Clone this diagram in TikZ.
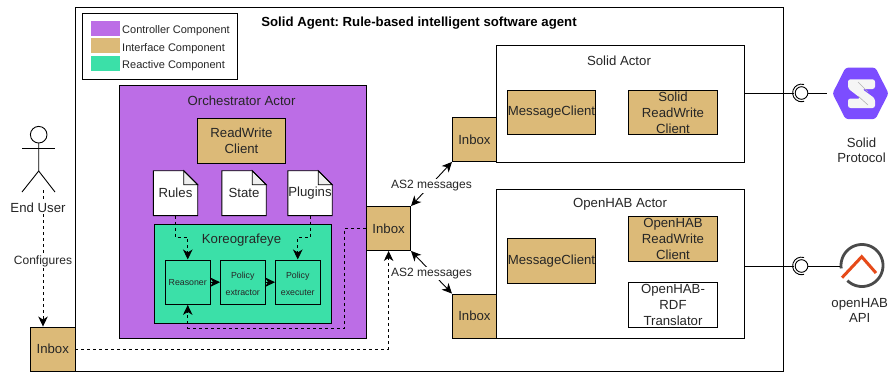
\documentclass[tikz,border=0pt]{standalone}
\usepackage{fontspec}
\setmainfont{Liberation Sans}
\usetikzlibrary{arrows.meta,calc}
\definecolor{ctrl}{HTML}{BC6DE6}
\definecolor{iface}{HTML}{DCBA78}
\definecolor{react}{HTML}{3BE0A8}
\definecolor{solidp}{HTML}{7C4DFF}
\definecolor{ohgray}{HTML}{4A4A4A}
\definecolor{ohor}{HTML}{E64A19}
\definecolor{foldc}{HTML}{EEEEEE}
\tikzset{
  x=1pt,y=-1pt,
  headtip/.tip={Stealth[length=10pt,width=9.5pt,inset=3pt]},
  boxn/.style={draw=black,line width=0.9pt,inner sep=0pt,align=center,font=\fontsize{13.2}{16}\selectfont,text=black!85},
  iface box/.style={boxn,fill=iface},
  white box/.style={boxn,fill=white},
  small box/.style={boxn,fill=react,font=\fontsize{8.8}{17}\selectfont,minimum width=44.5pt,minimum height=44.5pt},
  swatch/.style={fill=#1,draw=none,minimum width=29pt,minimum height=15pt,inner sep=0pt},
  legtxt/.style={font=\fontsize{11}{13}\selectfont,anchor=west,inner sep=0pt,text=black!85},
  lbl/.style={font=\fontsize{13.2}{15.5}\selectfont,align=center,inner sep=0pt,text=black!85},
  msg/.style={font=\fontsize{12}{14}\selectfont,fill=white,inner sep=1.5pt,text=black!85},
  dashedarrow/.style={line width=0.9pt,dash pattern=on 3pt off 3pt,-headtip},
  solidarrow/.style={line width=0.9pt,-headtip},
  twoway/.style={line width=0.9pt,headtip-headtip},
  plain/.style={line width=0.9pt},
}
\newcommand{\docshape}[1]{%
  \fill[white] (#1.north west) -- ($(#1.north east)+(-14,0)$) -- ($(#1.north east)+(0,14)$) -- (#1.south east) -- (#1.south west) -- cycle;
  \draw[plain,fill=foldc] ($(#1.north east)+(-14,0)$) -- ($(#1.north east)+(-14,14)$) -- ($(#1.north east)+(0,14)$) -- cycle;
  \draw[plain] (#1.north west) -- ($(#1.north east)+(-14,0)$) -- ($(#1.north east)+(0,14)$) -- (#1.south east) -- (#1.south west) -- cycle;
}
\begin{document}
\begin{tikzpicture}
\useasboundingbox (0,0) rectangle (888,372);
% outer agent box
\node[boxn,fill=white,minimum width=708pt,minimum height=364pt] (agent) at (429,189) {};
\node[font=\bfseries\fontsize{13.2}{15}\selectfont,inner sep=0pt] (title) at (419,23.5) {\frenchspacing Solid Agent: Rule-based intelligent software agent};
% legend
\node[boxn,fill=white,minimum width=154.5pt,minimum height=66pt] (legend) at (159.75,46) {};
\node[swatch=ctrl] (s1) at (105.5,28.5) {};
\node[swatch=iface] (s2) at (105.5,45.5) {};
\node[swatch=react] (s3) at (105.5,63.5) {};
\node[legtxt] (t1) at (122,30.5) {Controller Component};
\node[legtxt] (t2) at (122,48.5) {Interface Component};
\node[legtxt] (t3) at (122,65.5) {Reactive Component};
% orchestrator
\node[boxn,fill=ctrl,minimum width=247.5pt,minimum height=253pt] (orch) at (243,211.5) {};
\node[lbl] (orcht) at (241.5,100.5) {Orchestrator Actor};
\node[iface box,minimum width=88.5pt,minimum height=44.5pt] (rw) at (241.5,141) {ReadWrite\\Client};
\node[minimum width=44pt,minimum height=44.5pt,inner sep=0pt] (rules) at (175.5,193.2) {};
\node[minimum width=44pt,minimum height=44.5pt,inner sep=0pt] (state) at (244,193.2) {};
\node[minimum width=44pt,minimum height=44.5pt,inner sep=0pt] (plugins) at (310,193.2) {};
\docshape{rules}\docshape{state}\docshape{plugins}
\node[lbl] at (rules) {Rules};
\node[lbl] at (state) {State};
\node[lbl] at (plugins) {Plugins};
% koreografeye
\node[boxn,fill=react,minimum width=177pt,minimum height=99pt] (kore) at (242.8,273.8) {};
\node[lbl] (koret) at (241.5,240) {Koreografeye};
\node[small box] (reasoner) at (187.75,282.2) {Reasoner};
\node[small box] (extractor) at (242.75,282.2) {\rule{0pt}{10pt}Policy\\extractor};
\node[small box] (executer) at (297.75,282.2) {\rule{0pt}{10pt}Policy\\executer};
% inboxes
\node[iface box,minimum width=44pt,minimum height=44pt] (inboxc) at (388.6,228.5) {Inbox};
% actors
\node[boxn,fill=white,minimum width=248pt,minimum height=116.5pt] (solid) at (620.5,103.75) {};
\node[lbl] (solidt) at (619,60.5) {Solid Actor};
\node[iface box,minimum width=88.5pt,minimum height=44.5pt] (mc1) at (551.5,112.3) {MessageClient};
\node[iface box,minimum width=88.5pt,minimum height=44.5pt] (src) at (673,112.3) {Solid\\ReadWrite\\Client};
\node[boxn,fill=white,minimum width=248pt,minimum height=149pt] (oh) at (620.5,263.5) {};
\node[lbl] (oht) at (620,204.5) {OpenHAB Actor};
\node[iface box,minimum width=88.5pt,minimum height=44.5pt] (mc2) at (551.5,261) {MessageClient};
\node[iface box,minimum width=88.5pt,minimum height=44.5pt] (orc) at (673,239) {OpenHAB\\ReadWrite\\Client};
\node[white box,minimum width=88.5pt,minimum height=44.5pt] (tr) at (673,305) {OpenHAB-\\RDF\\Translator};
\node[iface box,minimum width=44pt,minimum height=44pt] (inboxs) at (474.4,139.5) {Inbox};
\node[iface box,minimum width=44pt,minimum height=44pt] (inboxo) at (474.4,316) {Inbox};
\node[iface box,minimum width=44.5pt,minimum height=44pt] (inboxu) at (52.75,349) {Inbox};
% end user
\coordinate (head) at (38.7,134.7);
\draw[plain] (head) circle (8.3);
\draw[plain] (22,148) -- (55,148);
\draw[plain] (38.7,143) -- (38.7,171) -- (22,192);
\draw[plain] (38.7,171) -- (55,192);
\coordinate (userfoot) at (43,190);
\coordinate (k1) at (0,237.6);
\coordinate (k2) at (344.5,328);
\coordinate (k3) at (388.6,349);
% dashed connectors
\draw[dashedarrow] (userfoot) -- (inboxu.north -| userfoot);
\node[lbl,fill=white,inner ysep=1pt] (enduser) at (38,208) {End User};
\node[font=\fontsize{12}{14}\selectfont,fill=white,inner sep=1pt,text=black!85] (conf) at (43,261.5) {Configures};
\draw[dashedarrow] (rules.south) -- (rules.south |- k1) -- (reasoner.north |- k1) -- (reasoner.north);
\draw[dashedarrow] (plugins.south) -- (plugins.south |- k1) -- (executer.north |- k1) -- (executer.north);
\draw[dashedarrow] (inboxc.west) -- (inboxc.west -| k2) -- (k2) -- (reasoner.south |- k2) -- (reasoner.south);
\draw[dashedarrow] (inboxu.east) -- (k3) -- (inboxc.south);
\draw[solidarrow] (reasoner.east) -- (extractor.west);
\draw[solidarrow] (extractor.east) -- (executer.west);
% AS2
\draw[twoway] (inboxc.north east) -- (inboxs.south west) node[midway,msg,yshift=-1.7pt] (as1) {AS2 messages};
\draw[twoway] (inboxc.south east) -- (inboxo.north west) node[midway,msg,yshift=-1.2pt] (as2) {AS2 messages};
% solid logo
\fill[solidp,rounded corners=2.5pt] (832.5,93.4) -- (845.5,67.7) -- (875.5,67.7) -- (888.5,93.4) -- (875.5,119) -- (845.5,119) -- cycle;
\node[inner sep=0pt,minimum size=0pt] (solidlogo) at (860.5,93.4) {};
\fill[white!96!black,rounded corners=2.5pt] (848,79.3) -- (875,79.3) -- (875,89) -- (862,89) -- (875,98.5) -- (875,108) -- (848,108) -- (848,98.5) -- (861,98.5) -- (848,88.5) -- cycle;
\draw[black!30,line width=0.6pt] (858,82) -- (868,92);
\draw[black!30,line width=0.6pt] (858,96) -- (868,105);
% openhab logo
\node[inner sep=0pt,minimum size=0pt] (ohlogo) at (862,265.5) {};
\draw[ohgray,line width=2.8pt] plot[domain=172:494,samples=70] ({862+21*cos(\x)},{265.5+21*sin(\x)});
\draw[ohor,line width=3pt] (842,277.7) -- (861.7,256.7) -- (876,273);
% interfaces
\coordinate (sock1) at (801.5,93);
\coordinate (sock2) at (801.5,266);
\draw[plain] (solid.east |- sock1) -- (794,93);
\draw[plain] (sock1) circle (6.3);
\draw[plain] (808,93) -- (827,93);
\draw[plain] (804,84.5) arc[start angle=-73,end angle=-287,radius=8.8];
\draw[plain] (oh.east |- sock2) -- (794,266);
\draw[plain] (sock2) circle (6.3);
\draw[plain] (808,266) -- (840,266);
\draw[plain] (804,257.5) arc[start angle=-73,end angle=-287,radius=8.8];
% labels
\node[lbl] (solidl) at (861.5,150.5) {Solid\\Protocol};
\node[lbl] (ohl) at (859.7,310.5) {openHAB\\API};
\end{tikzpicture}
\end{document}
